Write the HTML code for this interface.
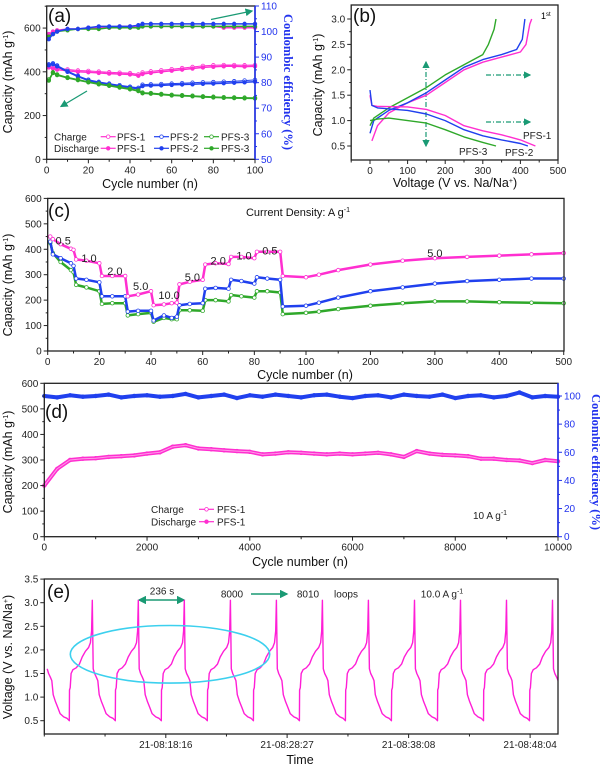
<!DOCTYPE html>
<html><head><meta charset="utf-8">
<style>
html,body{margin:0;padding:0;background:#fff;}
svg{display:block;font-family:"Liberation Sans",Arial,sans-serif;}
.tk{font-size:10px;fill:#222;}
.tt{font-size:12.5px;fill:#111;}
.pl{font-size:19px;fill:#111;}
.an{font-size:11px;fill:#111;}
</style></head>
<body>
<svg id="fig" width="600" height="766" viewBox="0 0 600 766">
<defs>
<marker id="ah" markerWidth="6" markerHeight="6" refX="5" refY="3" orient="auto"><path d="M0,0 L6,3 L0,6 z" fill="#1a9a74"/></marker>
<marker id="ahs" markerWidth="6" markerHeight="6" refX="1" refY="3" orient="auto"><path d="M6,0 L0,3 L6,6 z" fill="#1a9a74"/></marker>
<clipPath id="clipE"><rect x="44.3" y="579" width="513.7" height="155"/></clipPath>
</defs>
<g>
<text class="pl" x="48" y="22">(a)</text>
<text class="tt" transform="translate(12,82) rotate(-90)" text-anchor="middle">Capacity (mAh g<tspan dy="-4" font-size="7">-1</tspan><tspan dy="4">)</tspan></text>
<text class="tt" x="150" y="188" text-anchor="middle">Cycle number (n)</text>
<text transform="translate(284,82) rotate(90)" text-anchor="middle" style="font-family:'Liberation Serif',serif;font-weight:bold;font-size:12.5px;fill:#2233ee">Coulombic efficiency (%)</text>
<text class="tk" x="54" y="140.5">Charge</text>
<text class="tk" x="54" y="152">Discharge</text>
<text class="tk" x="117" y="140.5">PFS-1</text>
<text class="tk" x="170" y="140.5">PFS-2</text>
<text class="tk" x="221" y="140.5">PFS-3</text>
<text class="tk" x="117" y="152">PFS-1</text>
<text class="tk" x="170" y="152">PFS-2</text>
<text class="tk" x="221" y="152">PFS-3</text>
<line x1="211" y1="19.5" x2="252" y2="11" stroke="#1a9a74" stroke-width="1.3" marker-end="url(#ah)"/>
<line x1="87" y1="91" x2="61" y2="106.5" stroke="#1a9a74" stroke-width="1.3" marker-end="url(#ah)"/>
</g>
<g>
<text class="pl" x="353" y="22">(b)</text>
<text class="tt" transform="translate(322,85) rotate(-90)" text-anchor="middle">Capacity (mAh g<tspan dy="-4" font-size="7">-1</tspan><tspan dy="4">)</tspan></text>
<text class="tt" x="455" y="187" text-anchor="middle">Voltage (V vs. Na/Na<tspan dy="-4" font-size="7">+</tspan><tspan dy="4">)</tspan></text>
<text x="541" y="19" style="font-size:9px">1<tspan dy="-3" font-size="6">st</tspan></text>
<text class="tk" x="523" y="139">PFS-1</text>
<text class="tk" x="459" y="155">PFS-3</text>
<text class="tk" x="505" y="156">PFS-2</text>
<line x1="426" y1="62" x2="426" y2="146" stroke="#1a9a74" stroke-width="1.2" stroke-dasharray="5,2,1,2" marker-end="url(#ah)" marker-start="url(#ahs)"/>
<line x1="486" y1="75" x2="530" y2="75" stroke="#1a9a74" stroke-width="1.2" stroke-dasharray="5,2,1,2" marker-end="url(#ah)"/>
<line x1="486" y1="122" x2="530" y2="122" stroke="#1a9a74" stroke-width="1.2" stroke-dasharray="5,2,1,2" marker-end="url(#ah)"/>
</g>
<g>
<text class="pl" x="48" y="217">(c)</text>
<text class="an" x="298" y="216" text-anchor="middle">Current Density: A g<tspan dy="-4" font-size="7">-1</tspan></text>
<text class="tt" transform="translate(12,285) rotate(-90)" text-anchor="middle">Capacity (mAh g<tspan dy="-4" font-size="7">-1</tspan><tspan dy="4">)</tspan></text>
<text class="tt" x="305" y="379" text-anchor="middle">Cycle number (n)</text>
</g>
<g>
<text class="pl" x="45" y="418">(d)</text>
<text class="tt" transform="translate(12,462) rotate(-90)" text-anchor="middle">Capacity (mAh g<tspan dy="-4" font-size="7">-1</tspan><tspan dy="4">)</tspan></text>
<text class="tt" x="300" y="566" text-anchor="middle">Cycle number (n)</text>
<text transform="translate(592,462) rotate(90)" text-anchor="middle" style="font-family:'Liberation Serif',serif;font-weight:bold;font-size:12.5px;fill:#2233ee">Coulombic efficiency (%)</text>
<text class="tk" x="151" y="513">Charge</text>
<text class="tk" x="151" y="525.5">Discharge</text>
<text class="tk" x="217" y="513">PFS-1</text>
<text class="tk" x="217" y="525.5">PFS-1</text>
<text class="tk" x="473" y="519">10 A g<tspan dy="-4" font-size="7">-1</tspan></text>
</g>
<g>
<text class="pl" x="47" y="598">(e)</text>
<text class="tt" transform="translate(12,657) rotate(-90)" text-anchor="middle">Voltage (V vs. Na/Na<tspan dy="-4" font-size="7">+</tspan><tspan dy="4">)</tspan></text>
<text class="tt" x="300" y="764" text-anchor="middle">Time</text>
<text class="tk" x="162" y="594.5" text-anchor="middle">236 s</text>
<line x1="139" y1="600" x2="184" y2="600" stroke="#1a9a74" stroke-width="1.4" marker-end="url(#ah)" marker-start="url(#ahs)"/>
<text class="tk" x="232" y="597.5" text-anchor="middle">8000</text>
<line x1="251" y1="594" x2="287" y2="594" stroke="#1a9a74" stroke-width="1.4" marker-end="url(#ah)"/>
<text class="tk" x="308" y="597.5" text-anchor="middle">8010</text>
<text class="tk" x="346" y="597.5" text-anchor="middle">loops</text>
<text class="tk" x="442" y="597.5" text-anchor="middle">10.0 A g<tspan dy="-4" font-size="7">-1</tspan></text>
</g>
</svg>
<script>
// ---------- data: panel a ----------
const aCycles=[1,3,5,10,15,20,25,30,35,40,44,46,50,55,60,65,70,75,80,85,90,95,100];
const aDis1=[420,415,410,405,400,398,395,392,390,388,382,390,395,400,405,410,415,420,423,425,425,424,425];
const aCha1=[426,421,417,411,406,404,401,398,396,394,388,397,402,407,412,417,422,427,430,431,431,430,431];
const aDis2=[430,435,425,400,378,360,350,342,335,328,322,335,337,338,340,342,343,345,346,348,350,352,355];
const aCha2=[434,439,429,404,382,364,354,346,339,332,327,341,343,344,346,348,350,352,353,355,357,360,363];
const aDis3=[360,395,385,372,362,352,343,336,328,320,312,302,300,296,292,290,288,285,283,281,280,279,278];
const aCha3=[365,398,388,375,365,355,346,339,331,323,315,305,303,299,295,293,291,288,286,284,283,282,281];
const aCE1=[99,100,100.5,101,101,101.5,101.5,101.5,102,102,102,102,102,102,102,102,102,102,102,101.5,101.5,101.5,101.5];
const aCE2=[97,99,100,101,101,101.5,102,102,102,102,102.5,103,103,103,103,103,103,103,103,103,103,103,103];
const aCE3=[98,99,100,100.5,101,101,101,101.5,101.5,101.5,101.5,102,102,102,102,102,102,102,102,102,102,102,102];
const aXTicks=[0,20,40,60,80,100];
const aYTicks=[0,200,400,600];
const aRTicks=[50,60,70,80,90,100,110];
// ---------- data: panel b ----------
const bChgV1=[5,20,50,100,150,200,250,300,350,400,415,425,430];
const bChgC1=[0.6,0.9,1.15,1.35,1.5,1.75,2.0,2.15,2.25,2.35,2.5,2.9,3.0];
const bChgV2=[0,10,50,100,150,200,250,300,350,390,405,412];
const bChgC2=[0.75,1.0,1.2,1.35,1.55,1.8,2.05,2.2,2.3,2.4,2.6,3.0];
const bChgV3=[0,10,50,100,150,200,250,300,315,330,335];
const bChgC3=[0.9,1.05,1.25,1.45,1.65,1.9,2.1,2.3,2.5,2.8,3.0];
const bDisV1=[0,5,20,100,150,200,250,300,350,400,440];
const bDisC1=[1.5,1.3,1.28,1.27,1.22,1.1,0.9,0.8,0.72,0.62,0.5];
const bDisV2=[0,5,20,100,150,200,250,300,350,400,420];
const bDisC2=[1.6,1.3,1.25,1.2,1.13,1.0,0.82,0.7,0.62,0.55,0.5];
const bDisV3=[0,20,50,100,150,200,250,300,335];
const bDisC3=[1.0,1.03,1.05,1.0,0.95,0.82,0.68,0.57,0.5];
const bXTicks=[0,100,200,300,400,500];
const bYTicks=[0.5,1.0,1.5,2.0,2.5,3.0];
const bYLabels=["0.5","1.0","1.5","2.0","2.5","3.0"];
// ---------- data: panel c ----------
const cCycles=[1,2,5,9,10,11,15,20,21,25,30,31,35,40,41,45,48,50,51,55,60,61,65,70,71,75,80,81,85,90,91,100,120,150,200,250,300,350,400,450,500];
const cPFS1=[450,440,420,402,398,360,355,345,295,295,295,215,222,235,180,183,188,190,262,272,280,340,345,342,370,370,365,390,390,390,295,290,300,318,340,355,365,370,375,380,385];
const cPFS2=[430,380,365,345,335,285,280,270,215,215,215,155,158,158,120,140,130,135,180,185,188,245,248,245,280,275,265,290,285,280,175,178,190,210,235,250,265,275,280,285,285];
const cPFS3=[425,385,350,318,310,260,250,235,185,188,188,140,145,150,115,130,125,125,160,160,158,200,200,195,220,215,210,235,235,230,145,150,155,165,178,188,195,195,192,190,188];
const cRateLabels=["0.5","1.0","2.0","5.0","10.0","5.0","2.0","1.0","0.5","5.0"];
const cRateCycles=[6,16,26,36,47,56,66,76,86,300];
const cRateCaps=[435,365,315,255,220,290,355,375,395,385];
const cXTicks=[0,20,40,60,80,100,200,300,400,500];
const cYTicks=[0,100,200,300,400,500,600];
// ---------- data: panel d ----------
const dCycles=[0,250,500,750,1000,1250,1500,1750,2000,2250,2500,2750,3000,3250,3500,3750,4000,4250,4500,4750,5000,5250,5500,5750,6000,6250,6500,6750,7000,7250,7500,7750,8000,8250,8500,8750,9000,9250,9500,9750,10000];
const dCap=[200,265,300,305,307,312,315,318,325,330,352,358,345,342,338,335,332,322,325,330,328,325,322,325,322,325,328,322,312,335,325,320,318,315,305,305,300,298,288,300,295];
const dCE=[100,99,100.5,99.5,100,101,99,100,100.5,99.5,100,101.5,99,100,101,98.5,100.5,99.5,101,100,99,100.5,101,99.5,98.5,100,100.5,99,101,100,99.5,101,98.5,100,100.5,99,100,102.5,99,100,99.5];
const dXTicks=[0,2000,4000,6000,8000,10000];
const dYTicks=[0,100,200,300,400,500,600];
const dRTicks=[0,20,40,60,80,100];
// ---------- data: panel e ----------
const ePeriod=236;
const eFirstSpike=246;
const eSpikeCount=11;
const ePhase=[0,0.02,0.05,0.09,0.12,0.15,0.2,0.25,0.3,0.38,0.45,0.5,0.505,0.52,0.54,0.58,0.65,0.72,0.78,0.85,0.92,0.96,0.985,1.0];
const eVolt=[3.05,1.6,1.5,1.42,1.35,1.05,0.9,0.78,0.65,0.58,0.55,0.5,1.15,1.2,1.5,1.58,1.62,1.7,1.85,1.97,2.05,2.15,2.4,3.05];
const eYTicks=[0.5,1.0,1.5,2.0,2.5,3.0,3.5];
const eYLabels=["0.5","1.0","1.5","2.0","2.5","3.0","3.5"];
const eTimeTicks=[623,1245,1868,2491];
const eTimeLabels=["21-08:18:16","21-08:28:27","21-08:38:08","21-08:48:04"];

const NS='http://www.w3.org/2000/svg';
const fig=document.getElementById('fig');
function mk(tag,attrs,name,parent){
  const e=document.createElementNS(NS,tag);
  for(const k in attrs) e.setAttribute(k,attrs[k]);
  
  
  (parent||fig).appendChild(e);
  return e;
}
function txt(x,y,s,attrs,name){const t=mk('text',Object.assign({x:x,y:y,'class':'tk'},attrs),name);t.textContent=s;return t;}
function lin(d0,d1,r0,r1){return v=>r0+(v-d0)/(d1-d0)*(r1-r0);}
function frame(x0,y0,x1,y1,name){mk('rect',{x:x0,y:y0,width:x1-x0,height:y1-y0,fill:'none',stroke:'#222','stroke-width':1.3},name);}
function yTicks(sc,vals,labels,x,side,color,minor,name){
  const d=side==='left'?-1:1;
  vals.forEach((v,i)=>{
    mk('line',{x1:x,x2:x+d*4,y1:sc(v),y2:sc(v),stroke:color,'stroke-width':1},name+'-tick');
    txt(x+d*6,sc(v)+3.5,labels?labels[i]:String(v),{'text-anchor':side==='left'?'end':'start',style:'fill:'+color},name+'-label');
  });
  (minor||[]).forEach(v=>{mk('line',{x1:x,x2:x+d*2,y1:sc(v),y2:sc(v),stroke:color,'stroke-width':1},name+'-minor-tick');});
}
function xTicks(sc,vals,labels,y,minor,name){
  vals.forEach((v,i)=>{
    mk('line',{x1:sc(v),x2:sc(v),y1:y,y2:y+4,stroke:'#222','stroke-width':1},name+'-tick');
    txt(sc(v),y+14,labels?labels[i]:String(v),{'text-anchor':'middle'},name+'-label');
  });
  (minor||[]).forEach(v=>{mk('line',{x1:sc(v),x2:sc(v),y1:y,y2:y+2.5,stroke:'#222','stroke-width':1},name+'-minor-tick');});
}
function range(a,b,s){const r=[];for(let v=a;v<=b+1e-9;v+=s)r.push(v);return r;}
function series(xs,ys,xf,yf,color,w,marker,mr,name,extra){
  const pts=xs.map((x,i)=>xf(x).toFixed(1)+','+yf(ys[i]).toFixed(1)).join(' ');
  mk('polyline',Object.assign({points:pts,fill:'none',stroke:color,'stroke-width':w,'stroke-linejoin':'round'},extra||{}),name);
  if(marker){
    const g=mk('g',{},name+'-markers');
    xs.forEach((x,i)=>{
      mk('circle',{cx:xf(x),cy:yf(ys[i]),r:mr,fill:marker==='open'?'#fff':color,stroke:color,'stroke-width':0.8},name+'-point',g);
    });
  }
}
const PINK='#ff2fd0',BLUE='#2040ee',GREEN='#2fa82a';

// panel a
const xA=lin(0,100,46.7,255), yA=lin(0,700,159.3,6.2), yAr=lin(50,110,159.3,6);
series(aCycles,aCha1,xA,yA,PINK,1,'open',1.8,'a-pfs1-charge');
series(aCycles,aDis1,xA,yA,PINK,1.5,'fill',1.8,'a-pfs1-discharge');
series(aCycles,aCha2,xA,yA,BLUE,1,'open',1.8,'a-pfs2-charge');
series(aCycles,aDis2,xA,yA,BLUE,1.5,'fill',1.8,'a-pfs2-discharge');
series(aCycles,aCha3,xA,yA,GREEN,1,'open',1.8,'a-pfs3-charge');
series(aCycles,aDis3,xA,yA,GREEN,1.5,'fill',1.8,'a-pfs3-discharge');
series(aCycles,aCE1,xA,yAr,PINK,1.5,'fill',1.8,'a-pfs1-ce');
series(aCycles,aCE3,xA,yAr,GREEN,1.5,'fill',1.8,'a-pfs3-ce');
series(aCycles,aCE2,xA,yAr,BLUE,1.5,'fill',1.8,'a-pfs2-ce');
frame(46.7,6,255,159.3,'a-plot-frame');
mk('line',{x1:255,x2:255,y1:6,y2:159.3,stroke:'#2233ee','stroke-width':1.6},'a-right-axis-line');
yTicks(yA,aYTicks,null,46.7,'left','#222',range(100,700,200),'a-y-axis');
yTicks(yAr,aRTicks,null,255,'right','#2233ee',range(55,105,10),'a-right-axis');
xTicks(xA,aXTicks,null,159.3,range(10,90,20),'a-x-axis');
[[PINK,100.7,'open',136.7],[BLUE,154,'open',136.7],[GREEN,204,'open',136.7],[PINK,100.7,'fill',148.3],[BLUE,154,'fill',148.3],[GREEN,204,'fill',148.3]].forEach(l=>{
  mk('line',{x1:l[1],x2:l[1]+15,y1:l[3],y2:l[3],stroke:l[0],'stroke-width':1.2},'a-legend-line');
  mk('circle',{cx:l[1]+7.5,cy:l[3],r:1.8,fill:l[2]==='open'?'#fff':l[0],stroke:l[0],'stroke-width':0.8},'a-legend-marker');
});

// panel b
const xB=lin(-50,500,351.2,558), yB=lin(0.5,3.0,146,19);
series(bChgV1,bChgC1,xB,yB,PINK,1.4,null,0,'b-pfs1-charge');
series(bChgV2,bChgC2,xB,yB,BLUE,1.4,null,0,'b-pfs2-charge');
series(bChgV3,bChgC3,xB,yB,GREEN,1.4,null,0,'b-pfs3-charge');
series(bDisV1,bDisC1,xB,yB,PINK,1.4,null,0,'b-pfs1-discharge');
series(bDisV2,bDisC2,xB,yB,BLUE,1.4,null,0,'b-pfs2-discharge');
series(bDisV3,bDisC3,xB,yB,GREEN,1.4,null,0,'b-pfs3-discharge');
frame(351.2,5,558,160,'b-plot-frame');
yTicks(yB,bYTicks,bYLabels,351.2,'left','#222',[0.75,1.25,1.75,2.25,2.75],'b-y-axis');
xTicks(xB,bXTicks,null,160,[-50,50,150,250,350,450],'b-x-axis');

// panel c
const xC=v=>v<=100?47.7+v*2.583:306+(v-100)*0.6443;
const yC=lin(0,600,351,198.4);
series(cCycles,cPFS3,xC,yC,GREEN,2.5,'open',1.8,'c-pfs3');
series(cCycles,cPFS2,xC,yC,BLUE,2.5,'open',1.8,'c-pfs2');
series(cCycles,cPFS1,xC,yC,PINK,2.5,'open',1.8,'c-pfs1');
frame(47.7,198.4,564,351,'c-plot-frame');
yTicks(yC,cYTicks,null,47.7,'left','#222',range(50,550,100),'c-y-axis');
xTicks(xC,cXTicks,null,351,[10,30,50,70,90,150,250,350,450],'c-x-axis');
cRateLabels.forEach((s,i)=>{
  txt(xC(cRateCycles[i]),yC(cRateCaps[i])+4,s,{'text-anchor':'middle',style:'font-size:11px'},'c-rate-label');
});

// panel d
const xD=lin(0,10000,44.3,558), yD=lin(0,600,536.7,383.3), yDr=lin(0,100,536.7,396);
series(dCycles,dCE,xD,yDr,BLUE,4,'fill',1.8,'d-ce-series');
series(dCycles,dCap,xD,yD,PINK,4,'fill',1.8,'d-pfs1-discharge');
series(dCycles,dCap,xD,yD,'#ff9be8',1,null,0,'d-pfs1-charge');
frame(44.3,383.3,558,536.7,'d-plot-frame');
mk('line',{x1:558,x2:558,y1:383.3,y2:536.7,stroke:'#2233ee','stroke-width':1.6},'d-right-axis-line');
yTicks(yD,dYTicks,null,44.3,'left','#222',range(50,550,100),'d-y-axis');
yTicks(yDr,dRTicks,null,558,'right','#2233ee',range(10,90,20),'d-right-axis');
xTicks(xD,dXTicks,null,536.7,range(1000,9000,2000),'d-x-axis');
[[509.3,'open'],[521.7,'fill']].forEach(l=>{
  mk('line',{x1:199,x2:214,y1:l[0],y2:l[0],stroke:PINK,'stroke-width':1.2},'d-legend-line');
  mk('circle',{cx:206.5,cy:l[0],r:1.8,fill:l[1]==='open'?'#fff':PINK,stroke:PINK,'stroke-width':0.8},'d-legend-marker');
});

// panel e
const xE=lin(0,2634,44.3,558), yE=lin(0.5,3.0,720.7,602.7);
const eT=[],eV=[];
for(let k=-1;k<eSpikeCount;k++){
  ePhase.forEach((p,i)=>{
    const t=eFirstSpike+(k+p)*ePeriod;
    if(t>=12){eT.push(t);eV.push(eVolt[i]);}
  });
}
const eg=mk('g',{'clip-path':'url(#clipE)'},'e-trace-group');
{
  const pts=eT.map((t,i)=>xE(t).toFixed(1)+','+yE(eV[i]).toFixed(1)).join(' ');
  mk('polyline',{points:pts,fill:'none',stroke:'#ff1ed6','stroke-width':1.4,'stroke-linejoin':'round'},'e-voltage-trace',eg);
}
mk('ellipse',{cx:170,cy:654.3,rx:99.7,ry:28.8,fill:'none',stroke:'#3cd0ee','stroke-width':1.6},'e-highlight-ellipse');
frame(44.3,579,558,734,'e-plot-frame');
yTicks(yE,eYTicks,eYLabels,44.3,'left','#222',null,'e-y-axis');
xTicks(xE,eTimeTicks,eTimeLabels,734,[0,311.5,934,1557,2180],'e-x-axis');
</script>
</body></html>
